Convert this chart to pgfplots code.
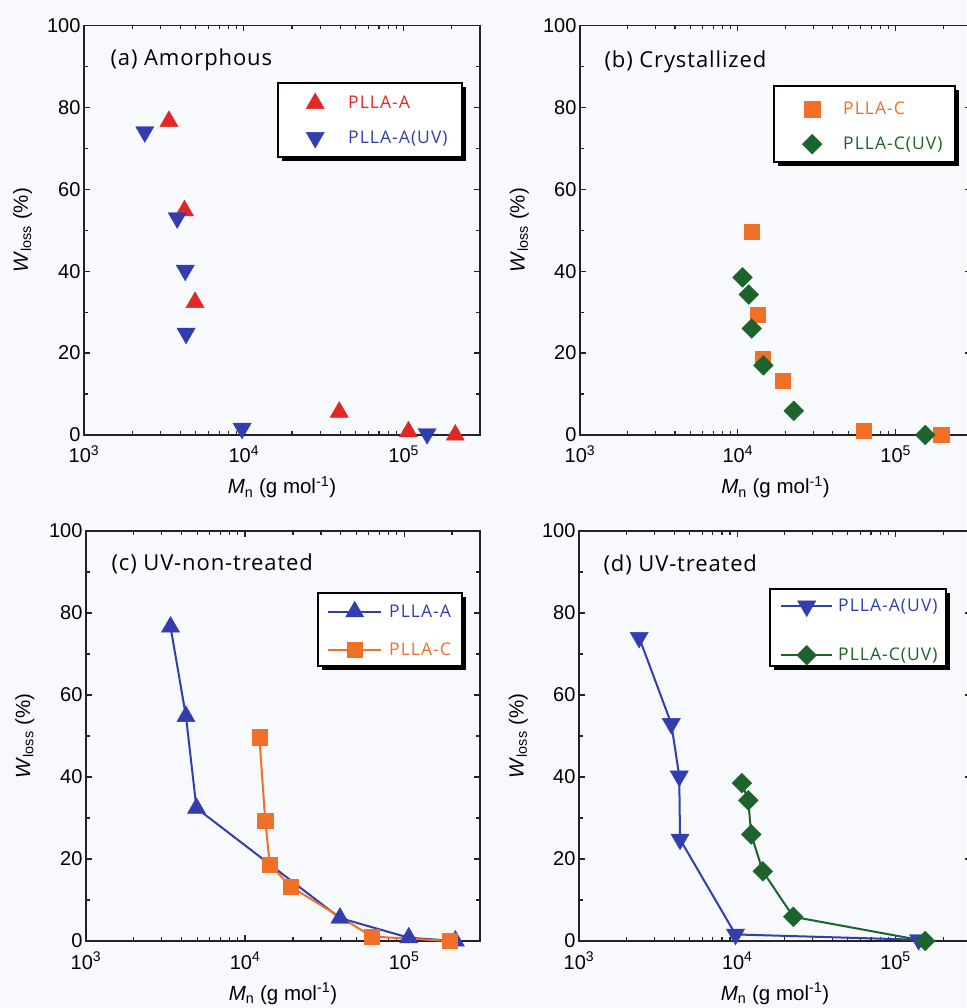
\documentclass[border=0pt]{standalone}
\usepackage{pgfplots}
\pgfplotsset{compat=1.18}
\usepackage{fontspec}
\setmainfont{Liberation Sans}
\newfontfamily\ttlfont[LetterSpace=4]{Open Sans}
\newfontfamily\legfont[LetterSpace=6]{Open Sans}
\definecolor{cred}{RGB}{226,40,38}
\definecolor{cblue}{RGB}{50,62,175}
\definecolor{corange}{RGB}{240,112,40}
\definecolor{cgreen}{RGB}{28,100,44}
\definecolor{bg}{RGB}{247,249,252}
\definecolor{axcol}{RGB}{35,35,35}

\pgfplotsset{every axis/.append style={
    xmode=log, xmin=1000, xmax=300000, ymin=0, ymax=100,
    scale only axis, clip=false,
    xtick={1000,10000,100000},
    xticklabels={10\textsuperscript{3},10\textsuperscript{4},10\textsuperscript{5}},
    minor xtick={2000,3000,4000,5000,6000,7000,8000,9000,20000,30000,40000,50000,60000,70000,80000,90000,200000},
    ytick={0,20,40,60,80,100},
    yticklabels={0,20,40,60,80,100},
    minor ytick={10,30,50,70,90},
    tick align=inside,
    major tick length=6pt, minor tick length=4pt,
    tick style={axcol, line width=1.2pt},
    axis line style={axcol, line width=1.6pt},
    tick label style={font=\fontsize{20}{24}\selectfont},
    xticklabel style={anchor=base, yshift=-28pt},
    label style={font=\fontsize{20.5}{24}\selectfont},
    xlabel={\textit{M}\textsubscript{n} (g mol\textsuperscript{-1})},
    ylabel={\textit{W}\textsubscript{loss} (\%)},
    xlabel style={at={(axis description cs:0.5,-0.144)}, anchor=base},
    ylabel style={at={(axis description cs:-0.155,0.5)}, anchor=center},
    legend cell align=left,
    legend style={at={(rel axis cs:0,1)}, anchor=north west,
      draw=none, fill=none,
      font=\legfont\fontsize{17.5}{20}\selectfont,
      nodes={inner sep=0pt}},
  },
  myleg/.style={legend image code/.code={%
     \draw[mark repeat=2,mark phase=2,##1] plot coordinates {(0pt,0pt) (\lgM,0pt) (\lgL,0pt)};%
     \path (0pt,-11pt) (\lgW,11pt);}},
}
\tikzset{
  sA/.style={cblue, line width=2pt, mark=triangle*, mark size=10.5pt, mark options={solid, fill=cblue, line width=0.4pt}},
  sAr/.style={cred, mark=triangle*, mark size=10.5pt, mark options={solid, fill=cred, line width=0.4pt}},
  sAUV/.style={cblue, line width=2pt, mark=triangle*, mark size=10.5pt, mark options={solid, fill=cblue, line width=0.4pt, rotate=180}},
  sC/.style={corange, line width=2pt, mark=square*, mark size=7.6pt, mark options={solid, fill=corange, line width=0.4pt}},
  sCUV/.style={cgreen, line width=2pt, mark=square*, mark size=7pt, mark options={solid, fill=cgreen, line width=0.4pt, rotate=45}},
}
% legend frame with solid drop shadow; arguments: left, top, right, bottom in image pixels (from top)
\newcommand\legbox[4]{%
  \fill[black] ({#1pt+4pt},{1008pt-#2pt-4pt}) rectangle ({#3pt+4pt},{1008pt-#4pt-4pt});
  \filldraw[fill=white, draw=black, line width=1.4pt] ({#1pt},{1008pt-#2pt}) rectangle ({#3pt},{1008pt-#4pt});}

\begin{document}
\begin{tikzpicture}
\fill[bg] (0,0) rectangle (966pt,1008pt);
\legbox{278}{83}{462}{157}
\legbox{774}{86}{955}{162}
\legbox{318}{593}{462}{666}
\legbox{770}{589}{946}{666}

% (a)
\def\lgM{24pt}\def\lgL{48pt}\def\lgW{56pt}
\begin{axis}[at={(84pt,573pt)}, anchor=south west, width=396pt, height=409.5pt,
  legend style={xshift=194pt, yshift=-57pt, inner xsep=12pt, inner ysep=9.5pt, row sep=11pt}]
\addplot[sAr, only marks, myleg] coordinates {(3400,76.6) (4250,54.8) (4950,32.4) (39500,5.6) (107000,0.8) (210000,0)};
\addlegendentry{\textcolor{cred}{PLLA-A}}
\addplot[sAUV, only marks, myleg] coordinates {(2400,74) (3830,53) (4300,40.2) (4350,24.8) (9750,1.6) (140000,0.3)};
\addlegendentry{\textcolor{cblue}{PLLA-A(UV)}}
\node[anchor=base west, font=\ttlfont\fontsize{22}{26}\selectfont, xshift=23pt, yshift=-40pt] at (rel axis cs:0,1) {(a) Amorphous};
\end{axis}

% (b)
\def\lgM{27pt}\def\lgL{54pt}\def\lgW{57pt}
\begin{axis}[at={(580pt,573pt)}, anchor=south west, width=391pt, height=409.5pt,
  legend style={xshift=194pt, yshift=-61pt, inner xsep=10pt, inner ysep=10.5pt, row sep=11pt}]
\addplot[sC, only marks, myleg] coordinates {(12300,49.7) (13400,29.3) (14300,18.7) (19300,13.3) (62700,1.1) (194000,0)};
\addlegendentry{\textcolor{corange}{PLLA-C}}
\addplot[sCUV, only marks, myleg] coordinates {(10700,38.5) (11730,34.3) (12250,26) (14500,17) (22600,5.9) (154000,0)};
\addlegendentry{\textcolor{cgreen}{PLLA-C(UV)}}
\node[anchor=base west, font=\ttlfont\fontsize{22}{26}\selectfont, xshift=21pt, yshift=-42pt] at (rel axis cs:0,1) {(b) Crystallized};
\end{axis}

% (c)
\def\lgM{26.5pt}\def\lgL{53pt}\def\lgW{60pt}
\begin{axis}[at={(86pt,67pt)}, anchor=south west, width=394pt, height=410pt,
  legend style={xshift=232pt, yshift=-61pt, inner xsep=9pt, inner ysep=7.5pt, row sep=14pt}]
\addplot[sA, myleg] coordinates {(3400,76.6) (4250,54.8) (4950,32.4) (39500,5.6) (107000,0.8) (210000,0)};
\addlegendentry{\textcolor{cblue}{PLLA-A}}
\addplot[sC, myleg] coordinates {(12300,49.7) (13400,29.3) (14300,18.7) (19300,13.3) (62700,1.1) (194000,0)};
\addlegendentry{\textcolor{corange}{PLLA-C}}
\node[anchor=base west, font=\ttlfont\fontsize{22}{26}\selectfont, xshift=22pt, yshift=-40pt] at (rel axis cs:0,1) {(c) UV-non-treated};
\end{axis}

% (d)
\def\lgM{25.5pt}\def\lgL{51pt}\def\lgW{56pt}
\begin{axis}[at={(579pt,67pt)}, anchor=south west, width=392pt, height=410pt,
  legend style={xshift=191pt, yshift=-59pt, inner xsep=10pt, inner ysep=4pt, row sep=25pt}]
\addplot[sAUV, myleg] coordinates {(2400,74) (3830,53) (4300,40.2) (4350,24.8) (9750,1.6) (140000,0.3)};
\addlegendentry{\textcolor{cblue}{PLLA-A(UV)}}
\addplot[sCUV, myleg] coordinates {(10700,38.5) (11730,34.3) (12250,26) (14500,17) (22600,5.9) (154000,0)};
\addlegendentry{\textcolor{cgreen}{PLLA-C(UV)}}
\node[anchor=base west, font=\ttlfont\fontsize{22}{26}\selectfont, xshift=21pt, yshift=-41pt] at (rel axis cs:0,1) {(d) UV-treated};
\end{axis}

\pgfresetboundingbox
\path[use as bounding box] (0,0) rectangle (966pt,1008pt);
\end{tikzpicture}
\end{document}
